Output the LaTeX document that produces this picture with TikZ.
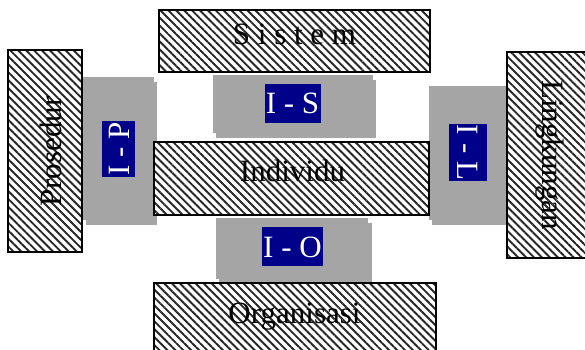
\documentclass[tikz,border=0pt]{standalone}
\usepackage{fontspec}
\setmainfont{Liberation Serif}
\usetikzlibrary{patterns.meta}
\definecolor{panelgray}{RGB}{165,165,165}
\definecolor{navylabel}{RGB}{0,0,136}
\tikzset{
  hatchbox/.style={preaction={fill=white},
    pattern={Lines[angle=-45,distance=5.6pt,line width=1.9pt]},
    pattern color=black!85, draw=black, line width=1.6pt},
  panel/.style={fill=panelgray, draw=none},
  boxtext/.style={font=\fontsize{31}{31}\selectfont, inner sep=0pt, anchor=base},
  tag/.style={fill=navylabel, text=white, inner sep=0pt,
    font=\fontsize{31}{31}\selectfont, text height=21pt, text depth=0pt,
    align=center}
}
\begin{document}
\begin{tikzpicture}[x=1pt,y=-1pt]
\useasboundingbox (0,0) rectangle (585,349);
\clip (0,0) rectangle (585,349);

% grey interface panels, each with an offset copy behind it
\path[panel] (86,82) rectangle (157,225);
\path[panel] (83,77) rectangle (154,220);
\path[panel] (216,80) rectangle (376,138);
\path[panel] (213,75) rectangle (373,133);
\path[panel] (432,91) rectangle (510,225);
\path[panel] (429,86) rectangle (507,220);
\path[panel] (219,223) rectangle (372,283);
\path[panel] (216,218) rectangle (368,279);

% hatched components
\path[hatchbox] (159,10) rectangle (430,72);
\path[hatchbox] (8,50) rectangle (82,252);
\path[hatchbox] (154,142) rectangle (429,215);
\path[hatchbox] (507,52) rectangle (595,258);
\path[hatchbox] (154,283) rectangle (436,360);

\node[boxtext] (sistem) at (294.5,44) {S i s t e m};
\node[boxtext] (individu) at (292.5,181) {Individu};
\node[boxtext] (organisasi) at (294.5,323) {Organisasi};
\node[boxtext, rotate=90] (prosedur) at (61.5,151.5) {Prosedur};
\node[boxtext, rotate=-90] (lingkungan) at (542,155) {Lingkungan};

% interface labels
\node[tag, minimum width=56pt, minimum height=39pt] (is) at (292.5,103) {I - S};
\node[tag, minimum width=61.6pt, minimum height=39pt] (io) at (292.5,246.7) {I - O};
\node[tag, rotate=90, minimum width=56pt, minimum height=33pt] (ip) at (118.5,149) {I - P};
\node[tag, rotate=-90, minimum width=57pt, minimum height=38pt] (il) at (468,152.5) {I - L};
\end{tikzpicture}
\end{document}
